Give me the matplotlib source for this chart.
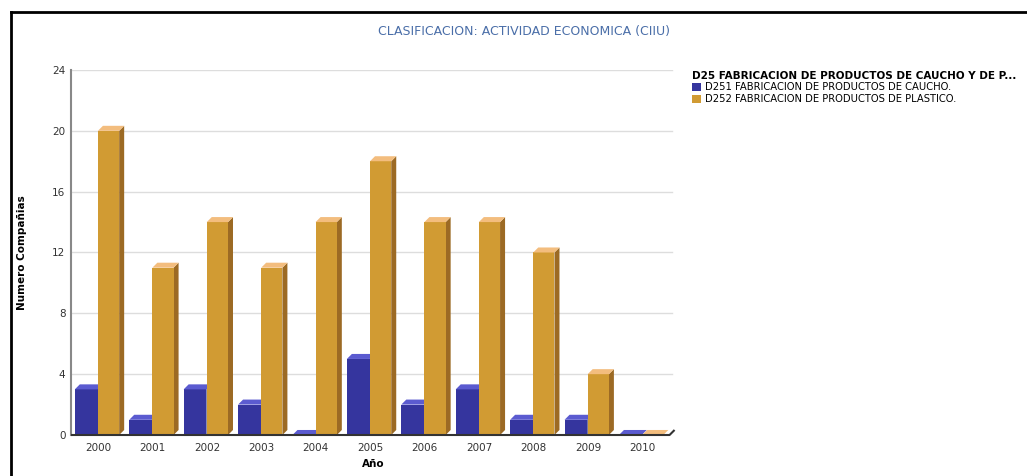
import matplotlib
matplotlib.use('Agg')
import matplotlib.pyplot as plt
from matplotlib.patches import Polygon, Patch
from matplotlib.lines import Line2D

years = ['2000', '2001', '2002', '2003', '2004', '2005', '2006', '2007', '2008', '2009', '2010']
caucho = [3, 1, 3, 2, 0, 5, 2, 3, 1, 1, 0]
plastico = [20, 11, 14, 11, 14, 18, 14, 14, 12, 4, 0]

series_names = ['D251 FABRICACION DE PRODUCTOS DE CAUCHO.',
                'D252 FABRICACION DE PRODUCTOS DE PLASTICO.']
legend_title = 'D25 FABRICACION DE PRODUCTOS DE CAUCHO Y DE P...'
title = 'CLASIFICACION: ACTIVIDAD ECONOMICA (CIIU)'

# front, top, side shades
blue = ('#35359e', '#5b5bd0', '#1f1f6a')
gold = ('#d19b33', '#f3bd7e', '#9c6a24')

DX = 0.092   # depth in x (data units)
DY = 0.33    # depth in y (data units)


def bar3d(ax, x, w, h, cols):
    front, top, side = cols
    ax.bar(x, h, width=w, align='edge', color=front, edgecolor='none', zorder=3)
    ax.add_patch(Polygon([(x, h), (x + DX, h + DY), (x + w + DX, h + DY), (x + w, h)],
                         closed=True, facecolor=top, edgecolor='none', zorder=3))
    ax.add_patch(Polygon([(x + w, 0), (x + w, h), (x + w + DX, h + DY), (x + w + DX, DY)],
                         closed=True, facecolor=side, edgecolor='none', zorder=2))


fig = plt.figure(figsize=(10.27, 4.76), dpi=100)
ax = fig.add_axes([71 / 1027, 1 - 435 / 476, (675 - 71) / 1027, (435 - 70) / 476])

bw_blue = 0.42
bw_gold = 0.39
for i in range(len(years)):
    bar3d(ax, i - 0.43, bw_blue, caucho[i], blue)
    bar3d(ax, i - 0.005, bw_gold, plastico[i], gold)

ax.set_xlim(-0.5, 10.6)
ax.set_ylim(0, 24)
ax.set_yticks(range(0, 25, 4))
ax.set_xticks(range(len(years)))
ax.set_xticklabels(years)
ax.tick_params(axis='both', length=0, labelsize=7.5, colors='#333333')
ax.tick_params(axis='x', pad=6)
ax.tick_params(axis='y', pad=4)

for y in range(4, 25, 4):
    ax.axhline(y, xmin=0, xmax=0.995, color='#dddddd', linewidth=1, zorder=0)

for s in ['top', 'right', 'bottom']:
    ax.spines[s].set_visible(False)
ax.spines['left'].set_color('#888888')
ax.spines['left'].set_linewidth(1.5)

# floor line with slanted end
ax.plot([-0.5, 10.5, 10.5 + DX], [0, 0, DY], color='#333333', linewidth=1.5,
        zorder=4, clip_on=False, solid_capstyle='butt')

ax.set_xlabel('Año', fontsize=7.5, fontweight='bold', labelpad=4)
ax.set_ylabel('Numero Compañias', fontsize=7.5, fontweight='bold', labelpad=18)

fig.text(524 / 1027, 1 - 32 / 476, title, ha='center', va='center',
         fontsize=9, color='#4a6ea8')

handles = [Patch(facecolor=blue[0], edgecolor='none'),
           Patch(facecolor=gold[0], edgecolor='none')]
leg = fig.legend(handles, series_names, title=legend_title, loc='upper left',
                 bbox_to_anchor=(687 / 1027, 1 - 66 / 476), frameon=False,
                 fontsize=7.2, handlelength=0.85, handleheight=0.85,
                 handletextpad=0.45, labelspacing=0.15, borderpad=0)
leg.get_title().set_fontsize(7.5)
leg.get_title().set_fontweight('bold')
leg._legend_box.align = 'left'

# outer frame: top and left edges
fig.add_artist(Line2D([11 / 1027, 1], [1 - 12 / 476, 1 - 12 / 476], color='black', linewidth=2))
fig.add_artist(Line2D([11 / 1027, 11 / 1027], [0, 1 - 12 / 476], color='black', linewidth=2))

fig.savefig('out.png', dpi=100)
plt.close()
